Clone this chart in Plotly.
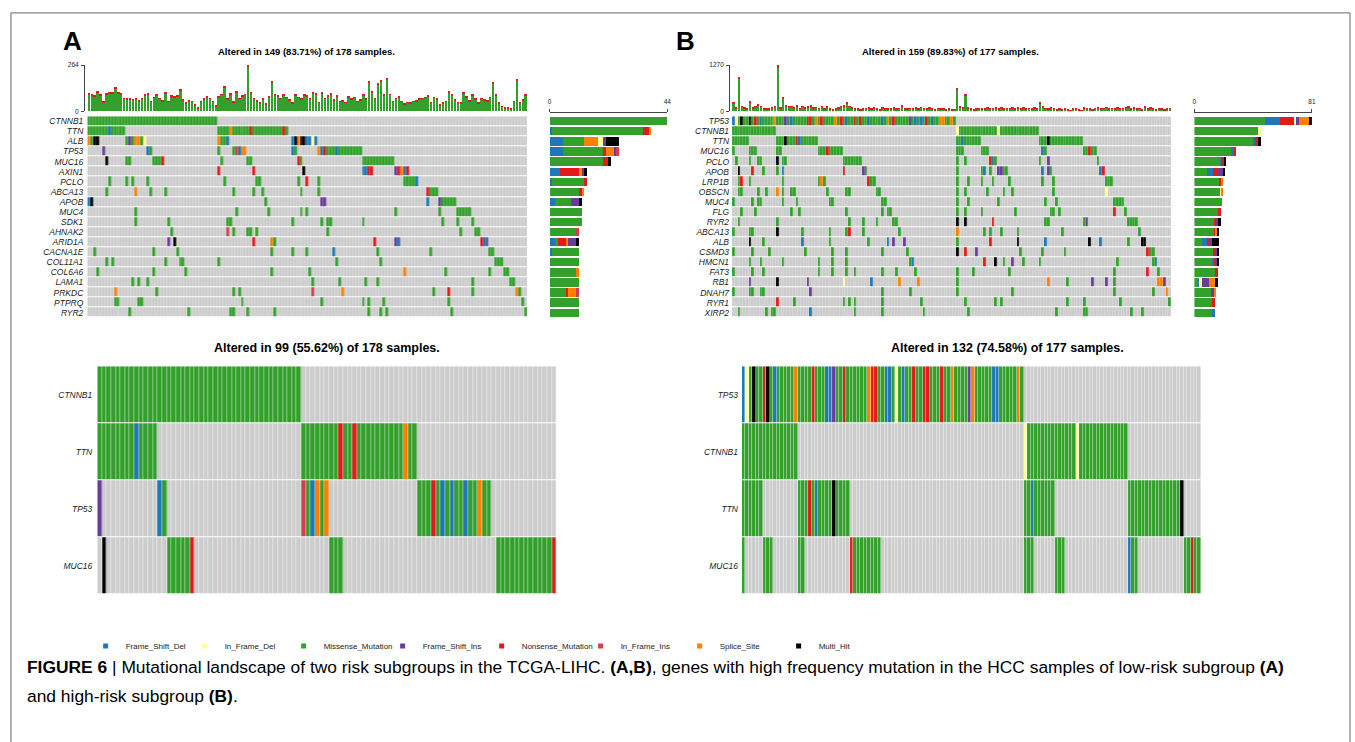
import plotly.graph_objects as go

W, H = 1355, 742


def px(x):
    return x / W


def py(y):
    return 1 - y / H


# ---------------- mutation classes ----------------
TYPE_CODES = ['.', 'M', 'N', 'D', 'I', 'd', 'i', 'S', 'H']
TYPE_NAMES = ['None', 'Missense_Mutation', 'Nonsense_Mutation', 'Frame_Shift_Del',
              'Frame_Shift_Ins', 'In_Frame_Del', 'In_Frame_Ins', 'Splice_Site', 'Multi_Hit']
TYPE_COLORS = ['#CCCCCC', '#33A02C', '#E31A1C', '#1F78B4',
               '#6A3D9A', '#FFFF99', '#D53E4F', '#FF7F00', '#000000']
LEGEND_ORDER = ['D', 'd', 'M', 'I', 'N', 'i', 'S', 'H']

# ---------------- Panel A (low-risk) ----------------
A_genes = ["CTNNB1", "TTN", "ALB", "TP53", "MUC16", "AXIN1", "PCLO", "ABCA13", "APOB", "MUC4",
           "SDK1", "AHNAK2", "ARID1A", "CACNA1E", "COL11A1", "COL6A6", "LAMA1", "PRKDC", "PTPRQ", "RYR2"]
A_pct = ["25%", "21%", "15%", "15%", "13%", "8%", "8%", "7%", "7%", "7%",
         "7%", "6%", "6%", "6%", "6%", "6%", "6%", "6%", "6%", "6%"]
A_n = 149
A_rows = [
    "0-43M",
    "0-6M 7D 8-12M 44-47M 48S 49-54M 55N 56-65M 66N 67M",
    "0S 1M 2H 3H 13M 14I 15M 16S 17S 18M 19d 44S 45M 46M 47D 69D 70H 71S 72H 73H 74D 75D 76d 77D",
    "5I 20D 21M 44M 49M 50i 51D 52S 53S 69D 70M 78S 79D 80N 81-83M 84D 85-92M",
    "6H 13M 14M 22-24M 25N 45M 54M 55M 71N 72M 93-103M",
    "44N 56N 73H 93D 94D 95N 96N 104I 105N 106S 107D 108N",
    "7M 13M 15M 20M 46M 57M 58M 71M 74N 78M 107-110M 111D",
    "6M 16S 21M 26M 49M 56M 59M 72M 78M 115N 116-118M",
    "0D 1H 60M 79I 80I 115D 119I 120-124M",
    "16M 50M 61M 72M 74M 104M 119M 125-129M",
    "16M 27M 47M 48M 69M 79M 81M 82M 93M 120M 125M 130M",
    "28M 47i 49M 54M 55M 57M 81M 126M 131M 132M",
    "27I 29H 56N 62S 63M 97N 104I 105D 133N 134D 135I",
    "2M 22M 30M 62M 69M 74M 83D 98M 116M 136M 137M",
    "6M 8M 26M 31M 32M 44M 84M 99M 138-140M",
    "3M 22M 33M 62M 75M 107S 121M 136M 141M 142M",
    "15M 17M 20M 76M 85M 94M 98M 130M 143M 144M",
    "9S 23M 49M 51M 76i 86S 117M 122N 130M 145S 146M",
    "9M 10M 17M 18M 52M 79M 93M 95M 100M 122M 147M",
    "14M 34M 48M 49M 54M 63M 95M 99M 101M 123M 148M",
]
A_tmb = [104, 94, 89, 113, 94, 57, 100, 107, 104, 136, 104, 100, 75, 70, 72, 66, 70, 62, 75, 94,
         100, 57, 81, 94, 75, 62, 107, 57, 89, 85, 89, 126, 66, 47, 62, 57, 38, 19, 57, 70,
         85, 75, 57, 32, 85, 98, 141, 70, 100, 55, 111, 75, 89, 98, 264, 104, 75, 62, 47, 70,
         43, 85, 170, 94, 89, 75, 94, 81, 66, 47, 94, 81, 70, 94, 89, 75, 104, 100, 51, 104,
         75, 89, 100, 66, 89, 57, 60, 51, 85, 70, 81, 57, 66, 94, 70, 170, 113, 75, 160, 179,
         94, 189, 98, 57, 75, 85, 57, 43, 51, 47, 57, 62, 70, 75, 81, 89, 51, 81, 70, 38,
         47, 57, 113, 94, 66, 51, 47, 104, 85, 62, 94, 70, 47, 75, 66, 62, 81, 164, 94, 47,
         28, 19, 19, 13, 57, 183, 51, 66, 94]
A_tmb_cap = [6, 5, 5, 6, 5, 8, 5, 6, 5, 7, 5, 5, 4, 4, 4, 4, 4, 4, 4, 5,
             5, 4, 5, 5, 4, 4, 6, 4, 5, 5, 5, 6, 4, 3, 4, 4, 3, 2, 4, 4,
             5, 4, 4, 3, 5, 5, 7, 4, 5, 4, 6, 4, 5, 5, 12, 5, 4, 4, 3, 4,
             3, 5, 8, 5, 5, 4, 5, 5, 4, 3, 5, 5, 4, 5, 5, 4, 5, 5, 3, 5,
             4, 5, 5, 4, 5, 4, 4, 3, 5, 4, 5, 4, 4, 5, 4, 8, 6, 4, 8, 8,
             5, 9, 5, 4, 4, 5, 4, 3, 3, 3, 4, 4, 4, 4, 5, 5, 3, 5, 4, 3,
             3, 4, 6, 5, 4, 3, 3, 5, 5, 4, 5, 4, 3, 4, 4, 4, 5, 8, 5, 3,
             2, 2, 2, 2, 4, 9, 3, 4, 5]
A_tmb_max = 264
A_bar_max = 44
# per-gene counts by class (right-hand bar chart)
A_counts = {
    'D': [0, 1, 5, 5, 0, 4, 1, 0, 2, 0, 0, 0, 2, 1, 0, 0, 0, 0, 0, 0],
    'M': [44, 34, 8, 15, 20, 0, 12, 11, 6, 12, 12, 10, 1, 10, 11, 10, 11, 6, 11, 11],
    'N': [0, 2, 0, 1, 2, 7, 1, 1, 0, 0, 0, 0, 3, 0, 0, 0, 0, 1, 0, 0],
    'S': [0, 1, 5, 3, 0, 1, 0, 1, 0, 0, 0, 0, 1, 0, 0, 1, 0, 3, 0, 0],
    'd': [0, 0, 2, 0, 0, 0, 0, 0, 0, 0, 0, 0, 0, 0, 0, 0, 0, 0, 0, 0],
    'I': [0, 0, 1, 1, 0, 1, 0, 0, 3, 0, 0, 0, 3, 0, 0, 0, 0, 0, 0, 0],
    'i': [0, 0, 0, 1, 0, 0, 0, 0, 0, 0, 0, 1, 0, 0, 0, 0, 0, 1, 0, 0],
    'H': [0, 0, 5, 0, 1, 1, 0, 0, 1, 0, 0, 0, 1, 0, 0, 0, 0, 0, 0, 0],
}
A_stack_order = ['D', 'M', 'N', 'S', 'd', 'I', 'i', 'H']

# ---------------- Panel B (high-risk) ----------------
B_genes = ["TP53", "CTNNB1", "TTN", "MUC16", "PCLO", "APOB", "LRP1B", "OBSCN", "MUC4", "FLG",
           "RYR2", "ABCA13", "ALB", "CSMD3", "HMCN1", "FAT3", "RB1", "DNAH7", "RYR1", "XIRP2"]
B_pct = ["46%", "26%", "26%", "16%", "12%", "12%", "11%", "11%", "11%", "10%",
         "10%", "10%", "10%", "10%", "10%", "9%", "8%", "8%", "8%", "8%"]
B_n = 159
B_rows = [
    "0D 1d 2M 3H 4M 5M 6H 7M 8N 9M 10D 11-14M 15S 16-18M 19I 20M 21D 22-26M 27N 28N 29M 30S 31M 32N "
    "33-36M 37S 38M 39N 40M 41D 42M 43M 44N 45M 46N 47M 48M 49D 50-53M 54D 55M 56S 57M 58N 59-63M 64I "
    "65M 66D 67M 68D 69M 70N 71M 72D 73M 74M 75S 76S 77M 78M 79S 80M",
    "0-15M 81d 82-95M 96d 97-110M",
    "0-5M 16-18M 19H 20-22M 23N 24D 25-30M 81M 82M 83D 84-89M 111-113M 114H 115-126M",
    "0M 6-8M 16M 17M 31-33M 34N 35-39M 81-83M 90-92M 112D 113M 127M 128M 129N 130M 131M",
    "1M 6M 9M 10M 16H 18M 19M 40-46M 81M 84M 93N 94D 95M 111M 114I 132M",
    "2H 7N 11M 16M 18D 40N 47I 48M 81M 90M 91D 93M 96I 97I 98M 99M 112D 114I 115M 133D 134N",
    "2M 3N 6M 18M 31M 32S 33M 49N 50M 51M 81M 85M 90M 94M 100M 112M 116M 135-137M",
    "2M 3M 9M 12M 16S 18M 21M 22M 34M 41M 42M 52M 53M 81M 84M 92M 98M 101M 116M 135d",
    "0M 7M 9M 10M 18M 23M 35M 36M 54M 55M 81M 85M 96M 113M 117M 138-141M",
    "3M 8M 21M 24M 41M 54M 56M 57M 81M 84M 90M 102M 115M 116M 118M 138N 142M",
    "2M 16M 42M 47M 52M 58M 59M 81H 84H 94N 113M 114M 127M 128I 143-146M",
    "0M 6M 7M 16H 25M 35M 41M 42N 47M 60M 81S 91M 93M 97M 103M 119M 147M",
    "6H 11M 25D 35M 49M 56D 58I 62I 81M 93N 103H 113D 129H 133D 143M 148H 149H",
    "0M 7M 13M 26M 36M 41M 54M 63M 81H 84N 88I 104M 112M 120M 150N 151M 152M",
    "6M 10M 18M 31M 36M 41M 64M 65D 91N 95H 98M 101I 105M 111M 139M 152M 153D",
    "0M 7M 11M 31M 36M 41M 44M 54M 59M 66M 81M 87M 100M 138M 150N 154M",
    "6I 16H 27I 40d 50D 60S 67S 81M 114S 121M 130I 135I 138M 154S 155S 156I",
    "0M 6M 7M 10M 11M 28I 54M 64M 81M 101M 138M 152M 157S",
    "16N 22M 40M 42M 44M 54M 68M 84M 95M 97M 121M 127M 140M 158M",
    "2M 12M 14M 15M 28D 44M 54M 69M 85M 117M 127M 128M 144M 148M",
]
B_tmb = [227, 91, 952, 136, 91, 64, 272, 91, 118, 181, 136, 64, 64, 73, 91, 136, 1270, 91, 390, 154,
         118, 136, 91, 154, 82, 136, 91, 118, 154, 91, 109, 82, 136, 64, 118, 64, 45, 64, 91, 136,
         154, 227, 136, 91, 64, 73, 45, 64, 82, 91, 64, 91, 64, 45, 91, 64, 73, 64, 91, 64,
         82, 154, 73, 64, 82, 64, 91, 64, 109, 82, 64, 91, 64, 45, 82, 64, 73, 45, 64, 45,
         54, 635, 118, 91, 480, 91, 64, 45, 64, 82, 64, 73, 91, 64, 82, 91, 64, 91, 73, 82,
         64, 91, 73, 91, 64, 91, 64, 82, 64, 91, 73, 245, 136, 82, 64, 91, 64, 45, 64, 45,
         64, 45, 27, 64, 82, 45, 27, 91, 82, 64, 45, 82, 91, 64, 82, 109, 64, 82, 64, 91,
         64, 82, 91, 118, 64, 91, 64, 82, 45, 118, 64, 91, 64, 45, 73, 64, 45, 64, 82]
B_tmb_cap = [30, 18, 60, 20, 18, 16, 35, 18, 20, 25, 20, 16, 16, 16, 18, 20, 80, 18, 40, 22,
             20, 20, 18, 22, 18, 20, 18, 20, 22, 18, 20, 18, 20, 16, 20, 16, 14, 16, 18, 20,
             22, 30, 20, 18, 16, 16, 14, 16, 18, 18, 16, 18, 16, 14, 18, 16, 16, 16, 18, 16,
             18, 22, 16, 16, 18, 16, 18, 16, 20, 18, 16, 18, 16, 14, 18, 16, 16, 14, 16, 14,
             14, 55, 20, 18, 45, 18, 16, 14, 16, 18, 16, 16, 18, 16, 18, 18, 16, 18, 16, 18,
             16, 18, 16, 18, 16, 18, 16, 18, 16, 18, 16, 30, 20, 18, 16, 18, 16, 14, 16, 14,
             16, 14, 12, 16, 18, 14, 12, 18, 18, 16, 14, 18, 18, 16, 18, 20, 16, 18, 16, 18,
             16, 18, 18, 20, 16, 18, 16, 18, 14, 20, 16, 18, 16, 14, 16, 16, 14, 16, 18]
B_tmb_max = 1270
B_bar_max = 81
B_counts = {
    'M': [49, 44, 41, 26, 18, 9, 17, 18, 19, 17, 14, 14, 5, 13, 12, 15, 3, 12, 13, 13],
    'D': [10, 0, 1, 1, 1, 4, 0, 0, 0, 0, 0, 0, 4, 0, 2, 0, 1, 0, 0, 1],
    'N': [10, 0, 2, 2, 1, 3, 2, 0, 0, 1, 1, 1, 1, 2, 1, 1, 0, 1, 1, 0],
    'd': [1, 2, 0, 0, 0, 0, 0, 1, 0, 0, 0, 0, 0, 0, 0, 0, 1, 0, 0, 0],
    'I': [2, 0, 0, 0, 1, 4, 0, 0, 0, 0, 1, 0, 2, 1, 1, 0, 5, 1, 0, 0],
    'S': [7, 0, 0, 0, 0, 0, 1, 1, 0, 0, 0, 1, 0, 0, 0, 0, 5, 1, 0, 0],
    'i': [0] * 20,
    'H': [2, 0, 2, 0, 1, 1, 0, 0, 0, 0, 2, 1, 5, 1, 1, 0, 1, 0, 0, 0],
}
B_stack_order = ['M', 'D', 'N', 'd', 'I', 'S', 'i', 'H']

# ---------------- bottom: four-gene oncoplots ----------------
CA_genes = ["CTNNB1", "TTN", "TP53", "MUC16"]
CA_pct = ["25%", "21%", "15%", "13%"]
CA_n = 99
CA_rows = [
    "0-43M",
    "0-7M 8D 9-12M 44-51M 52N 53M 54M 55N 56-65M 66S 67M 68M",
    "0I 13D 14M 44i 45M 46D 47S 48M 49S 69-71M 72N 73M 74D 75M 76D 77M 78M 79D 80M 81M 82S 83M 84M",
    "1H 15-19M 20N 50-52M 86-97M 98N",
]
CB_genes = ["TP53", "CTNNB1", "TTN", "MUC16"]
CB_pct = ["46%", "26%", "26%", "16%"]
CB_n = 132
CB_rows = [
    "0D 1d 2M 3H 4M 5M 6N 7H 8M 9D 10-14M 15S 16-19M 20N 21-23M 24D 25D 26I 27M 28M 29N 30-35M 36S "
    "37N 38N 39M 40M 41D 42D 43M 44d 45M 46D 47M 48M 49N 50M 51M 52N 53N 54-56M 57N 58M 59M 60S "
    "61-64M 65I 66S 67-71M 72D 73D 74-78M 79S 80M",
    "0-15M 81d 82-95M 96d 97-110M",
    "0-5M 16-18M 19N 20M 21D 22-25M 26H 27-30M 81M 82M 83D 84-89M 111-125M 126H",
    "0M 6-8M 16M 17M 31N 32-39M 81-83M 90-92M 111D 112M 113M 127M 128M 129N 130M 131M",
]

TITLE_A = "Altered in 149 (83.71%) of 178 samples."
TITLE_B = "Altered in 159 (89.83%) of 177 samples."
TITLE_CA = "Altered in 99 (55.62%) of 178 samples."
TITLE_CB = "Altered in 132 (74.58%) of 177 samples."


# ---------------- helpers ----------------
def decode(spec, n):
    row = [0] * n
    for tok in spec.split():
        rng, code = tok[:-1], tok[-1]
        if '-' in rng:
            a, b = map(int, rng.split('-'))
        else:
            a = b = int(rng)
        for k in range(a, b + 1):
            row[k] = TYPE_CODES.index(code)
    return row


ncls = len(TYPE_COLORS)
colorscale = []
for k, c in enumerate(TYPE_COLORS):
    colorscale.append([k / ncls, c])
    colorscale.append([(k + 1) / ncls, c])

FONT = "Liberation Sans, Arial, sans-serif"
TXT = '#222222'
fig = go.Figure()
layout = dict(
    width=W, height=H, margin=dict(l=0, r=0, t=0, b=0), autosize=False,
    paper_bgcolor='white', plot_bgcolor='white',
    barmode='stack', bargap=0.18,
    font=dict(family=FONT, color=TXT, size=9),
)


def hidden_axis(dom, rng, anchor):
    return dict(domain=dom, range=rng, visible=False, anchor=anchor, fixedrange=True)


def oncoplot(genes, pct, rows, n, xi, yi, ypi, xdom, ydom, xgap, label_size, standoff_l, standoff_r):
    z = [decode(r, n) for r in rows]
    fig.add_trace(go.Heatmap(
        z=z, x=list(range(n)), y=list(range(len(genes))),
        colorscale=colorscale, zmin=-0.5, zmax=ncls - 0.5, showscale=False,
        xgap=xgap, ygap=1, hoverinfo='skip',
        xaxis='x' + str(xi), yaxis='y' + str(yi)))
    ng = len(genes)
    layout['xaxis' + str(xi)] = hidden_axis(xdom, [-0.5, n - 0.5], 'y' + str(yi))
    layout['yaxis' + str(yi)] = dict(
        domain=ydom, range=[ng - 0.5, -0.5], anchor='x' + str(xi),
        tickmode='array', tickvals=list(range(ng)), ticktext=genes,
        tickfont=dict(size=label_size, style='italic', color=TXT),
        ticks='', showline=False, showgrid=False, zeroline=False,
        ticklabelstandoff=standoff_l, fixedrange=True)
    layout['yaxis' + str(ypi)] = dict(
        domain=ydom, range=[ng - 0.5, -0.5], anchor='x' + str(xi),
        overlaying='y' + str(yi), side='right',
        tickmode='array', tickvals=list(range(ng)), ticktext=pct,
        tickfont=dict(size=label_size, color=TXT),
        ticks='', showline=False, showgrid=False, zeroline=False,
        ticklabelstandoff=standoff_r, fixedrange=True)


def tmb(total, cap, vmax, xi, yi, xdom, ydom, axis_x):
    n = len(total)
    base = [t - c for t, c in zip(total, cap)]
    fig.add_trace(go.Bar(x=list(range(n)), y=base, marker=dict(color=TYPE_COLORS[1], line=dict(width=0)),
                         showlegend=False, hoverinfo='skip',
                         xaxis='x' + str(xi), yaxis='y' + str(yi)))
    fig.add_trace(go.Bar(x=list(range(n)), y=cap, marker=dict(color=TYPE_COLORS[2], line=dict(width=0)),
                         showlegend=False, hoverinfo='skip',
                         xaxis='x' + str(xi), yaxis='y' + str(yi)))
    layout['xaxis' + str(xi)] = hidden_axis(xdom, [-0.5, n - 0.5], 'y' + str(yi))
    layout['yaxis' + str(yi)] = dict(
        domain=ydom, range=[0, vmax], anchor='free', position=px(axis_x), side='left',
        tickmode='array', tickvals=[0, vmax], ticktext=['0', str(vmax)],
        ticks='outside', ticklen=3, tickwidth=1, tickcolor='#444',
        showline=True, linecolor='#444', linewidth=1, showgrid=False, zeroline=False,
        tickfont=dict(size=6.5, color=TXT), ticklabelstandoff=1, fixedrange=True)


def side_bars(genes, counts, order, vmax, xi, yi, xdom, ydom, line_y):
    ng = len(genes)
    for code in order:
        k = TYPE_CODES.index(code)
        fig.add_trace(go.Bar(
            y=list(range(ng)), x=counts[code], orientation='h',
            marker=dict(color=TYPE_COLORS[k], line=dict(width=0)),
            name=TYPE_NAMES[k], showlegend=False, hoverinfo='skip',
            xaxis='x' + str(xi), yaxis='y' + str(yi)))
    layout['xaxis' + str(xi)] = dict(
        domain=xdom, range=[0, vmax], anchor='free', position=py(line_y), side='top',
        tickmode='array', tickvals=[0, vmax], ticktext=['0', str(vmax)],
        ticks='outside', ticklen=3, tickwidth=1, tickcolor='#444',
        showline=True, linecolor='#444', linewidth=1, showgrid=False, zeroline=False,
        tickfont=dict(size=6.5, color=TXT), ticklabelstandoff=3, fixedrange=True)
    layout['yaxis' + str(yi)] = dict(domain=ydom, range=[ng - 0.5, -0.5], visible=False,
                                     anchor='x' + str(xi), fixedrange=True)


# geometry (pixel positions of the reference)
top_tmb_y = [py(108.3), py(61.7)]
top_onc_y = [py(316.7), py(113.3)]
bot_y = [py(596), py(365.7)]
A_x = [px(85.7), px(527.5)]
B_x = [px(733.3), px(1174.5)]
A_bar_x = [px(550), px(668.3)]
B_bar_x = [px(1197.7), px(1315.7)]
CA_x = [px(95.7), px(557)]
CB_x = [px(743.3), px(1204.3)]

tmb(A_tmb, A_tmb_cap, A_tmb_max, 1, 1, A_x, top_tmb_y, 82.3)
oncoplot(A_genes, A_pct, A_rows, A_n, 2, 2, 3, A_x, top_onc_y, 0.2, 8.5, 3, 2)
side_bars(A_genes, A_counts, A_stack_order, A_bar_max, 4, 4, A_bar_x, top_onc_y, 109.3)

tmb(B_tmb, B_tmb_cap, B_tmb_max, 5, 5, B_x, top_tmb_y, 730.3)
oncoplot(B_genes, B_pct, B_rows, B_n, 6, 6, 7, B_x, top_onc_y, 0.2, 8.5, 2, 2)
side_bars(B_genes, B_counts, B_stack_order, B_bar_max, 8, 8, B_bar_x, top_onc_y, 109.3)

oncoplot(CA_genes, CA_pct, CA_rows, CA_n, 9, 9, 10, CA_x, bot_y, 0.45, 8.5, 4, 2)
oncoplot(CB_genes, CB_pct, CB_rows, CB_n, 11, 11, 12, CB_x, bot_y, 0.45, 8.5, 3, 2)

# legend entries (no data, legend only)
for code in LEGEND_ORDER:
    k = TYPE_CODES.index(code)
    fig.add_trace(go.Scatter(x=[None], y=[None], mode='markers', name=TYPE_NAMES[k],
                             marker=dict(symbol='square', size=5, color=TYPE_COLORS[k]),
                             xaxis='x', yaxis='y', hoverinfo='skip'))

layout['showlegend'] = True
layout['legend'] = dict(orientation='h', x=px(84), y=py(648), xanchor='left', yanchor='middle',
                        entrywidth=54, entrywidthmode='pixels', itemsizing='trace',
                        itemwidth=30, font=dict(size=8, color=TXT), bgcolor='rgba(0,0,0,0)',
                        tracegroupgap=0, traceorder='normal')

ann = []
ann.append(dict(text='<b>A</b>', x=px(71), y=py(37), xref='paper', yref='paper', showarrow=False,
                font=dict(size=26, color='black', family=FONT), xanchor='center', yanchor='middle'))
ann.append(dict(text='<b>B</b>', x=px(687), y=py(37), xref='paper', yref='paper', showarrow=False,
                font=dict(size=26, color='black', family=FONT), xanchor='center', yanchor='middle'))
for t, x, y, s in [(TITLE_A, 306, 48, 9.5), (TITLE_B, 953, 48, 9.5),
                   (TITLE_CA, 326, 347, 12.5), (TITLE_CB, 1010, 347, 12.5)]:
    ann.append(dict(text='<b>' + t + '</b>', x=px(x), y=py(y), xref='paper', yref='paper',
                    showarrow=False, font=dict(size=s, color='black', family=FONT),
                    xanchor='center', yanchor='middle'))
ann.append(dict(text='<b>FIGURE 6</b> | Mutational landscape of two risk subgroups in the TCGA-LIHC. '
                     '<b>(A,B)</b>, genes with high frequency mutation in the HCC samples of low-risk subgroup <b>(A)</b>',
                x=px(23), y=py(669), xref='paper', yref='paper', showarrow=False,
                font=dict(size=17.4, color='black', family=FONT), xanchor='left', yanchor='middle'))
ann.append(dict(text='and high-risk subgroup <b>(B)</b>.',
                x=px(23), y=py(699), xref='paper', yref='paper', showarrow=False,
                font=dict(size=17.4, color='black', family=FONT), xanchor='left', yanchor='middle'))
layout['annotations'] = ann

layout['shapes'] = [dict(type='rect', xref='paper', yref='paper',
                         x0=px(9), x1=px(1354), y0=py(760), y1=py(9),
                         line=dict(color='#666666', width=1), fillcolor='rgba(0,0,0,0)', layer='below')]

fig.update_layout(**layout)
fig.write_html("out.html")
